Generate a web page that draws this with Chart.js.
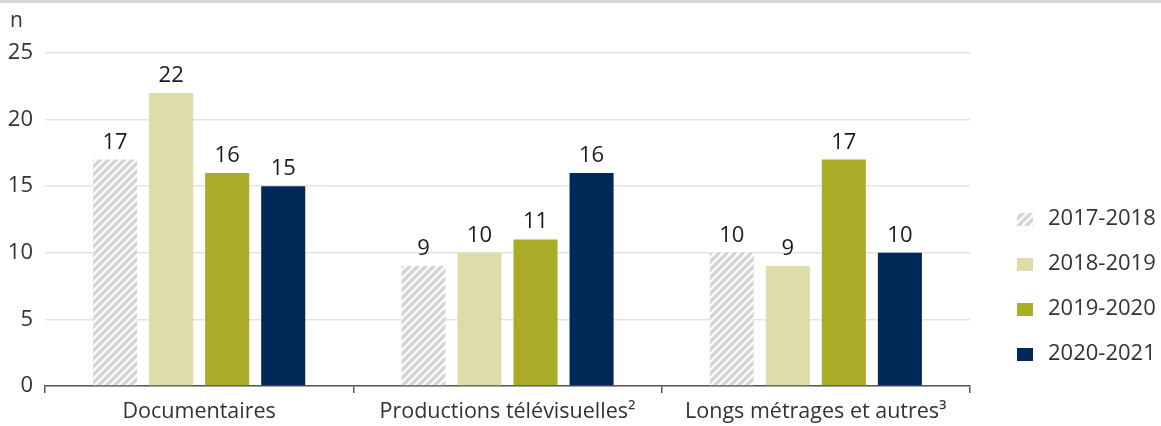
<!DOCTYPE html>
<html>
<head>
<meta charset="utf-8">
<script src="https://cdn.jsdelivr.net/npm/chart.js@4/dist/chart.umd.min.js"></script>
<style>
  html, body { margin: 0; padding: 0; background: #fff; }
  #wrap { width: 1161px; height: 426px; position: relative; }
</style>
</head>
<body>
<div id="wrap"><canvas id="chart" width="1161" height="426"></canvas></div>
<script>
// data
const categories = ["Documentaires", "Productions télévisuelles²", "Longs métrages et autres³"];
const seriesNames = ["2017-2018", "2018-2019", "2019-2020", "2020-2021"];
const values2017 = [17, 9, 10];
const values2018 = [22, 10, 9];
const values2019 = [16, 11, 17];
const values2020 = [15, 16, 10];
const yTicks = [0, 5, 10, 15, 20, 25];

const FONT = "'Open Sans', 'Noto Sans', sans-serif";

// hatched fill for the first season
function makeHatch() {
    const c = document.createElement("canvas");
    c.width = 8; c.height = 8;
    const g = c.getContext("2d");
    g.fillStyle = "#d6d6d6";
    g.fillRect(0, 0, 8, 8);
    g.strokeStyle = "#ffffff";
    g.lineWidth = 2;
    g.beginPath();
    g.moveTo(-2, 10); g.lineTo(10, -2);
    g.moveTo(-2, 2); g.lineTo(2, -2);
    g.moveTo(6, 10); g.lineTo(10, 6);
    g.stroke();
    return g.createPattern(c, "repeat");
}

const colors = [makeHatch(), "#dcdda9", "#aaac28", "#00295a"];
const allValues = [values2017, values2018, values2019, values2020];

const extras = {
    id: "extras",
    afterDraw(chart) {
        const ctx = chart.ctx;
        ctx.save();
        // top rule
        ctx.fillStyle = "#d8d8d8";
        ctx.fillRect(0, 0, chart.width, 3);
        // unit label
        ctx.fillStyle = "#333";
        ctx.font = "21px " + FONT;
        ctx.textAlign = "left";
        ctx.textBaseline = "alphabetic";
        ctx.fillText("n", 10, 27);
        // value labels above bars
        ctx.fillStyle = "#1a1a1a";
        ctx.font = "22px " + FONT;
        ctx.textAlign = "center";
        chart.data.datasets.forEach((ds, i) => {
            chart.getDatasetMeta(i).data.forEach((bar, j) => {
                ctx.fillText(ds.data[j], bar.x, bar.y - 11);
            });
        });
        // legend
        ctx.font = "22px " + FONT;
        ctx.textAlign = "left";
        ctx.textBaseline = "middle";
        chart.data.datasets.forEach((ds, i) => {
            const cy = 219 + i * 45;
            ctx.fillStyle = ds.backgroundColor;
            ctx.fillRect(1017, cy - 6, 16, 13);
            ctx.fillStyle = "#333";
            ctx.fillText(ds.label, 1048, cy);
        });
        ctx.restore();
    }
};

const ctx = document.getElementById("chart").getContext("2d");
new Chart(ctx, {
    type: "bar",
    data: {
        labels: categories,
        datasets: seriesNames.map((name, i) => ({
            label: name,
            data: allValues[i],
            backgroundColor: colors[i],
            categoryPercentage: 0.727,
            barPercentage: 0.786
        }))
    },
    options: {
        responsive: false,
        animation: false,
        layout: { padding: { top: 53, right: 191, left: 0, bottom: 0 } },
        plugins: {
            legend: { display: false },
            tooltip: { enabled: false }
        },
        scales: {
            x: {
                grid: { drawOnChartArea: false, offset: true, tickLength: 7, color: "#555", lineWidth: 1.5 },
                border: { color: "#555", width: 1.5 },
                ticks: { color: "#333", font: { family: FONT, size: 21.5 }, padding: 6 },
                afterFit(scale) { scale.height = 40; }
            },
            y: {
                min: 0,
                max: 25,
                afterBuildTicks(scale) { scale.ticks = yTicks.map(v => ({ value: v })); },
                grid: { color: "#e3e3e3", lineWidth: 1.5, drawTicks: false },
                border: { display: false },
                ticks: { color: "#333", font: { family: FONT, size: 22 }, padding: 12 },
                afterFit(scale) { scale.width = 45; }
            }
        }
    },
    plugins: [extras]
});
</script>
</body>
</html>
